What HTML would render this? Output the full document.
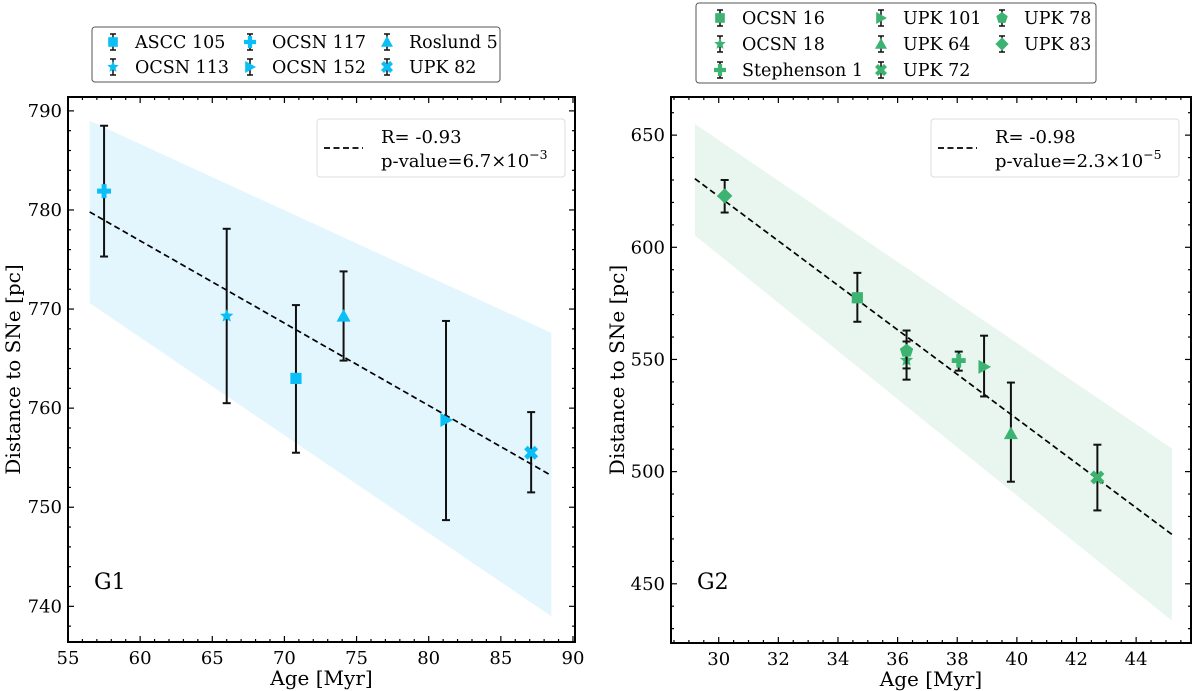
<!DOCTYPE html>
<html><head><meta charset="utf-8">
<style>
body{margin:0;background:#fff;}
svg{display:block;font-family:"DejaVu Serif","Liberation Serif",serif;}
</style></head>
<body>
<svg id="c" width="1200" height="691" viewBox="0 0 1200 691"></svg>
<script>
// ---- G1 data ----
const g1Names = ["ASCC 105","OCSN 113","OCSN 117","OCSN 152","Roslund 5","UPK 82"];
const g1Markers = ["square","star","plus","tright","tri","x"];
const g1Age = [70.8, 66.0, 57.5, 81.2, 74.1, 87.1];
const g1Dist = [763.0, 769.3, 781.9, 758.8, 769.3, 755.5];
const g1ErrLo = [755.5, 760.5, 775.3, 748.7, 764.8, 751.5];
const g1ErrHi = [770.4, 778.1, 788.5, 768.8, 773.8, 759.6];
const g1FitX = [56.5, 88.5];
const g1FitY = [779.8, 753.2];
const g1BandHi = [789.0, 767.6];
const g1BandLo = [770.6, 739.0];
const g1XTicks = [55,60,65,70,75,80,85,90];
const g1YTicks = [740,750,760,770,780,790];
// ---- G2 data ----
const g2Names = ["OCSN 16","OCSN 18","Stephenson 1","UPK 101","UPK 64","UPK 72","UPK 78","UPK 83"];
const g2Markers = ["square","star","plus","tright","tri","x","pent","diamond"];
const g2Age = [34.65, 36.3, 38.05, 38.9, 39.8, 42.7, 36.3, 30.2];
const g2Dist = [577.5, 549.7, 549.5, 546.7, 517.0, 497.4, 553.8, 622.9];
const g2ErrLo = [566.8, 541.0, 545.0, 533.5, 495.5, 482.7, 546.0, 615.5];
const g2ErrHi = [588.6, 558.0, 553.5, 560.6, 539.7, 512.0, 562.9, 630.0];
const g2FitX = [29.2, 45.2];
const g2FitY = [630.6, 472.0];
const g2BandHi = [655.0, 510.3];
const g2BandLo = [605.3, 433.5];
const g2XTicks = [30,32,34,36,38,40,42,44];
const g2YTicks = [450,500,550,600,650];

const NS="http://www.w3.org/2000/svg";
const svg=document.getElementById('c');
function el(tag,attrs,parent){const e=document.createElementNS(NS,tag);for(const k in attrs)e.setAttribute(k,attrs[k]);(parent||svg).appendChild(e);return e;}

function marker(g,type,cx,cy,s,color){
  let e;
  if(type==="square") e=el('rect',{x:cx-s*0.8,y:cy-s*0.8,width:s*1.6,height:s*1.6,fill:color},g);
  else if(type==="tri") e=el('polygon',{points:`${cx},${cy-s} ${cx+s},${cy+s*0.8} ${cx-s},${cy+s*0.8}`,fill:color},g);
  else if(type==="tright") e=el('polygon',{points:`${cx+s},${cy} ${cx-s*0.8},${cy-s} ${cx-s*0.8},${cy+s}`,fill:color},g);
  else if(type==="diamond") e=el('polygon',{points:`${cx},${cy-s*1.1} ${cx+s*1.1},${cy} ${cx},${cy+s*1.1} ${cx-s*1.1},${cy}`,fill:color},g);
  else if(type==="plus") e=el('path',{d:`M${cx-s*0.35},${cy-s}h${s*0.7}v${s*0.65}h${s*0.65}v${s*0.7}h${-s*0.65}v${s*0.65}h${-s*0.7}v${-s*0.65}h${-s*0.65}v${-s*0.7}h${s*0.65}z`,fill:color},g);
  else if(type==="x") e=el('path',{d:`M${cx-s},${cy-s*0.5}L${cx-s*0.5},${cy-s}L${cx},${cy-s*0.5}L${cx+s*0.5},${cy-s}L${cx+s},${cy-s*0.5}L${cx+s*0.5},${cy}L${cx+s},${cy+s*0.5}L${cx+s*0.5},${cy+s}L${cx},${cy+s*0.5}L${cx-s*0.5},${cy+s}L${cx-s},${cy+s*0.5}L${cx-s*0.5},${cy}z`,fill:color},g);
  else if(type==="star"){let p=[];for(let i=0;i<10;i++){const r=i%2?s*0.45:s;const a=-Math.PI/2+i*Math.PI/5;p.push((cx+r*Math.cos(a)).toFixed(2)+","+(cy+r*Math.sin(a)).toFixed(2));}e=el('polygon',{points:p.join(' '),fill:color},g);}
  else if(type==="pent"){let p=[];for(let i=0;i<5;i++){const a=-Math.PI/2+i*2*Math.PI/5;p.push((cx+s*Math.cos(a)).toFixed(2)+","+(cy+s*Math.sin(a)).toFixed(2));}e=el('polygon',{points:p.join(' '),fill:color},g);}
  return e;
}

function panel(cfg){
  const {L,R,T,B,x0,x1,y0,y1,xt,yt,xMinor,yMinor,color,band,names,markers,age,dist,lo,hi,fitX,fitY,bHi,bLo,tag,rText,pText,pExp,legBox,groupName,lblX}=cfg;
  const X=v=>L+(v-x0)/(x1-x0)*(R-L);
  const Y=v=>B-(v-y0)/(y1-y0)*(B-T);
  const g=el('g',{});
  
  
  const bandP=el('polygon',{points:`${X(fitX[0])},${Y(bHi[0])} ${X(fitX[1])},${Y(bHi[1])} ${X(fitX[1])},${Y(bLo[1])} ${X(fitX[0])},${Y(bLo[0])}`,fill:band},g);
  
  
  const fl=el('line',{x1:X(fitX[0]),y1:Y(fitY[0]),x2:X(fitX[1]),y2:Y(fitY[1]),stroke:'#000','stroke-width':1.7,'stroke-dasharray':'6,3.5'},g);
  
  
  for(let i=0;i<age.length;i++){
    const pg=el('g',{},g);
    
    
    const cx=X(age[i]);
    el('line',{x1:cx,y1:Y(lo[i]),x2:cx,y2:Y(hi[i]),stroke:'#111','stroke-width':2},pg);
    el('line',{x1:cx-4,y1:Y(lo[i]),x2:cx+4,y2:Y(lo[i]),stroke:'#111','stroke-width':2},pg);
    el('line',{x1:cx-4,y1:Y(hi[i]),x2:cx+4,y2:Y(hi[i]),stroke:'#111','stroke-width':2},pg);
    marker(pg,markers[i],cx,Y(dist[i]),7,color);
  }
  const tk=el('g',{stroke:'#000','stroke-width':1.2},g);
  for(let v=Math.ceil(x0/xMinor)*xMinor; v<=x1+1e-9; v+=xMinor){
    const isMaj=xt.some(t=>Math.abs(t-v)<1e-6); const len=isMaj?6:3; const x=X(v);
    el('line',{x1:x,y1:B,x2:x,y2:B-len},tk); el('line',{x1:x,y1:T,x2:x,y2:T+len},tk);
  }
  for(let v=Math.ceil(y0/yMinor)*yMinor; v<=y1+1e-9; v+=yMinor){
    const isMaj=yt.some(t=>Math.abs(t-v)<1e-6); const len=isMaj?6:3; const y=Y(v);
    el('line',{x1:L,y1:y,x2:L+len,y2:y},tk); el('line',{x1:R,y1:y,x2:R-len,y2:y},tk);
  }
  el('rect',{x:L,y:T,width:R-L,height:B-T,fill:'none',stroke:'#000','stroke-width':2},g);
  xt.forEach(v=>{const t=el('text',{x:X(v),y:B+22,'text-anchor':'middle','font-size':18},g);t.textContent=v;
    });
  yt.forEach(v=>{const t=el('text',{x:L-6,y:Y(v)+6,'text-anchor':'end','font-size':18},g);t.textContent=v;
    });
  const xl=el('text',{x:(L+R)/2,y:B+43,'text-anchor':'middle','font-size':20},g);xl.textContent='Age [Myr]';
  
  const yl=el('text',{x:0,y:0,'text-anchor':'middle','font-size':20,transform:`translate(${lblX},${(T+B)/2}) rotate(-90)`},g);yl.textContent='Distance to SNe [pc]';
  
  const gt=el('text',{x:L+26,y:589,'font-size':22},g);gt.textContent=tag;
  
  const sb=el('g',{},g);
  
  
  el('rect',{x:legBox[0],y:119,width:248,height:58,rx:3,fill:'#fff',stroke:'#ddd','stroke-width':1},sb);
  el('line',{x1:legBox[0]+7,y1:148,x2:legBox[0]+46,y2:148,stroke:'#000','stroke-width':1.7,'stroke-dasharray':'6,3.5'},sb);
  const r1=el('text',{x:legBox[0]+64,y:143,'font-size':18},sb);r1.textContent=rText;
  const r2=el('text',{x:legBox[0]+64,y:167,'font-size':18},sb);r2.textContent=pText;
  const ts=el('tspan',{dy:-8,'font-size':12.5},r2);ts.textContent=pExp;
  return {X,Y};
}

panel({L:68,R:575,T:97,B:642,x0:55,x1:90.14,y0:736.4,y1:791.4,xt:g1XTicks,yt:g1YTicks,xMinor:1,yMinor:2,
 color:'#0abff5',band:'#e3f6fd',names:g1Names,markers:g1Markers,age:g1Age,dist:g1Dist,lo:g1ErrLo,hi:g1ErrHi,
 fitX:g1FitX,fitY:g1FitY,bHi:g1BandHi,bLo:g1BandLo,tag:'G1',rText:'R= -0.93',pText:'p-value=6.7×10',pExp:'−3',
 legBox:[317],groupName:'panel-g1',lblX:20});
panel({L:671,R:1191,T:97,B:643,x0:28.4,x1:45.84,y0:423.6,y1:667,xt:g2XTicks,yt:g2YTicks,xMinor:0.5,yMinor:10,
 color:'#3cb371',band:'#e9f6ef',names:g2Names,markers:g2Markers,age:g2Age,dist:g2Dist,lo:g2ErrLo,hi:g2ErrHi,
 fitX:g2FitX,fitY:g2FitY,bHi:g2BandHi,bLo:g2BandLo,tag:'G2',rText:'R= -0.98',pText:'p-value=2.3×10',pExp:'−5',
 legBox:[931],groupName:'panel-g2',lblX:624});

function legend(x,y,w,h,cols,rowH,colX,names,markers,color,nm){
  const g=el('g',{});
  
  
  el('rect',{x:x,y:y,width:w,height:h,rx:3,fill:'#fff',stroke:'#555','stroke-width':1},g);
  names.forEach((n,i)=>{
    const c=Math.floor(i/cols), r=i%cols;
    const mx=x+colX[c], my=y+15+r*rowH;
    const eg=el('g',{},g);
    
    
    el('line',{x1:mx,y1:my-8,x2:mx,y2:my+8,stroke:'#111','stroke-width':1.5},eg);
    el('line',{x1:mx-3,y1:my-8,x2:mx+3,y2:my-8,stroke:'#111','stroke-width':1.5},eg);
    el('line',{x1:mx-3,y1:my+8,x2:mx+3,y2:my+8,stroke:'#111','stroke-width':1.5},eg);
    marker(eg,markers[i],mx,my,6,color);
    const t=el('text',{x:mx+22,y:my+6,'font-size':17.5},eg);t.textContent=n;
  });
}
legend(92,27,408,55,2,25,[21,158,295],g1Names,g1Markers,'#0abff5','legend-g1');
legend(696,3,400,80,3,26,[24,185,306],g2Names,g2Markers,'#3cb371','legend-g2');
</script>
</body></html>
